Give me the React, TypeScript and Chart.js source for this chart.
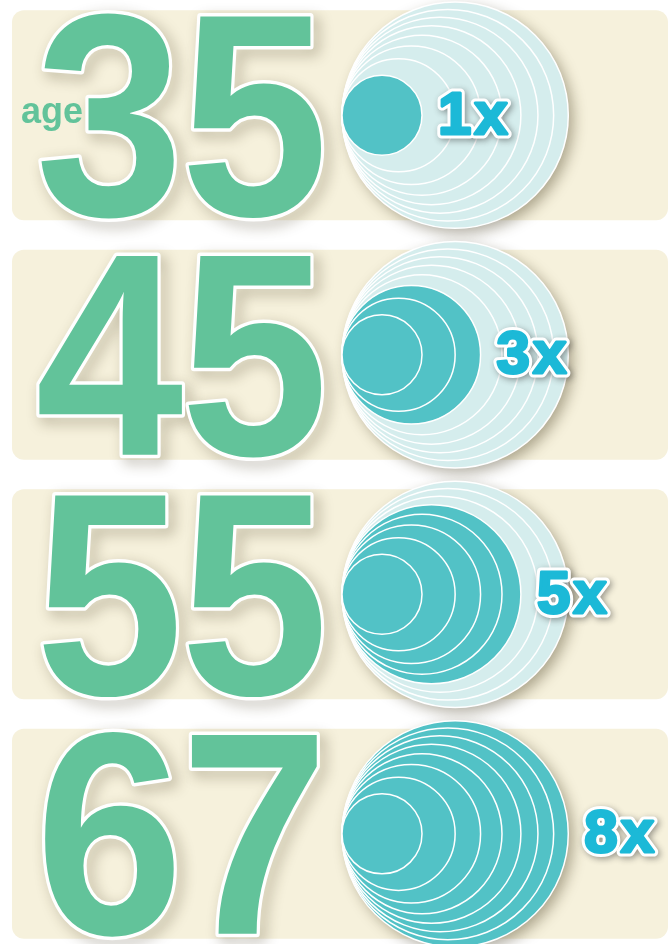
import { useEffect, useRef } from "react";
import { Chart, registerables } from "chart.js";
Chart.register(...registerables);

const AGES = ["35", "45", "55", "67"];
const MULTIPLIERS = [1, 3, 5, 8];
const MULT_LABELS = ["1x", "3x", "5x", "8x"];
const RING_AREAS = [8, 7, 6, 5, 4, 3, 2, 1];
const PREFIX = "age";

const GREEN = "#62c39a";
const TEAL = "#52c2c6";
const LIGHT = "#d5eded";
const LABEL = "#1cb9d7";
const BEIGE = "#f6f1dc";

export default function App() {
  const ref = useRef<HTMLCanvasElement>(null);
  useEffect(() => {
    document.body.style.margin = "0";
    const canvas = ref.current!;
    const points: any[] = [];
    AGES.forEach((_, i) =>
      RING_AREAS.forEach((k) => points.push({ x: Math.sqrt(k), y: i, k, panel: i }))
    );

    const rpx = (chart: any, v: number) => {
      const xs = chart.scales.x;
      return xs.getPixelForValue(v) - xs.getPixelForValue(0);
    };

    const deco = {
      id: "deco",
      beforeDatasetsDraw(chart: any) {
        const ctx = chart.ctx;
        const xs = chart.scales.x;
        const ys = chart.scales.y;
        // panels
        AGES.forEach((_, i) => {
          const cy = ys.getPixelForValue(i);
          ctx.save();
          ctx.fillStyle = BEIGE;
          ctx.beginPath();
          ctx.roundRect(12, cy - 105, 656, 210, 12);
          ctx.fill();
          ctx.restore();
        });
        // big numbers
        AGES.forEach((age, i) => {
          const cy = ys.getPixelForValue(i);
          ctx.save();
          ctx.scale(0.92, 1);
          ctx.font = "bold 289px 'Liberation Sans', Arial, sans-serif";
          (ctx as any).letterSpacing = "-3px";
          ctx.textBaseline = "alphabetic";
          ctx.textAlign = "left";
          ctx.lineJoin = "round";
          ctx.shadowColor = "rgba(60,50,20,0.38)";
          ctx.shadowBlur = 14;
          ctx.shadowOffsetX = 5;
          ctx.shadowOffsetY = 5;
          ctx.strokeStyle = "#ffffff";
          ctx.lineWidth = 7;
          ctx.strokeText(age, 38.5, cy + 100);
          ctx.shadowColor = "transparent";
          ctx.fillStyle = GREEN;
          ctx.fillText(age, 38.5, cy + 100);
          ctx.restore();
          if (i === 0) {
            ctx.save();
            ctx.font = "bold 36px 'Liberation Sans', Arial, sans-serif";
            ctx.fillStyle = GREEN;
            ctx.textBaseline = "alphabetic";
            ctx.textAlign = "left";
            ctx.fillText(PREFIX, 21, cy + 8);
            ctx.restore();
          }
        });
        // outer circle shadows
        AGES.forEach((_, i) => {
          const cy = ys.getPixelForValue(i);
          const r = rpx(chart, Math.sqrt(RING_AREAS[0]));
          const cx = xs.getPixelForValue(Math.sqrt(RING_AREAS[0]));
          ctx.save();
          ctx.shadowColor = "rgba(60,50,20,0.4)";
          ctx.shadowBlur = 14;
          ctx.shadowOffsetX = 5;
          ctx.shadowOffsetY = 5;
          ctx.fillStyle = LIGHT;
          ctx.beginPath();
          ctx.arc(cx, cy, r, 0, Math.PI * 2);
          ctx.fill();
          ctx.restore();
        });
      },
      afterDatasetsDraw(chart: any) {
        const ctx = chart.ctx;
        const xs = chart.scales.x;
        const ys = chart.scales.y;
        MULT_LABELS.forEach((lab, i) => {
          const cy = ys.getPixelForValue(i);
          const x = xs.getPixelForValue(2 * Math.sqrt(MULTIPLIERS[i])) + 16;
          ctx.save();
          ctx.font = "bold 60px 'Liberation Sans', Arial, sans-serif";
          (ctx as any).letterSpacing = "3px";
          ctx.textBaseline = "middle";
          ctx.textAlign = "left";
          ctx.lineJoin = "round";
          ctx.shadowColor = "rgba(40,40,40,0.45)";
          ctx.shadowBlur = 6;
          ctx.shadowOffsetX = 2;
          ctx.shadowOffsetY = 2;
          ctx.strokeStyle = "#ffffff";
          ctx.lineWidth = 9;
          ctx.strokeText(lab, x, cy + 2);
          ctx.shadowColor = "transparent";
          ctx.fillStyle = LABEL;
          ctx.strokeStyle = LABEL;
          ctx.lineWidth = 3;
          ctx.fillText(lab, x, cy + 2);
          ctx.strokeText(lab, x, cy + 2);
          ctx.restore();
        });
      },
    };

    const chart = new Chart(canvas, {
      type: "scatter",
      data: {
        datasets: [
          {
            data: points,
            pointRadius: (c: any) => {
              const ch = c.chart;
              if (!ch.scales || !ch.scales.x || !c.raw) return 0;
              return rpx(ch, c.raw.x);
            },
            pointHoverRadius: (c: any) => {
              const ch = c.chart;
              if (!ch.scales || !ch.scales.x || !c.raw) return 0;
              return rpx(ch, c.raw.x);
            },
            pointBackgroundColor: (c: any) =>
              c.raw && c.raw.k <= MULTIPLIERS[c.raw.panel] ? TEAL : LIGHT,
            pointBorderColor: "#ffffff",
            pointBorderWidth: 1.5,
          },
        ],
      },
      options: {
        animation: false,
        responsive: false,
        events: [],
        layout: { padding: 0 },
        plugins: { legend: { display: false }, tooltip: { enabled: false } },
        scales: {
          x: { type: "linear", display: false, min: -8.55, max: 8.2 },
          y: { type: "linear", display: false, reverse: true, min: -0.481, max: 3.46 },
        },
      },
      plugins: [deco],
    });
    return () => chart.destroy();
  }, []);
  return (
    <div style={{ width: 670, height: 944, background: "#ffffff" }}>
      <canvas ref={ref} width={670} height={944} style={{ display: "block" }} />
    </div>
  );
}
